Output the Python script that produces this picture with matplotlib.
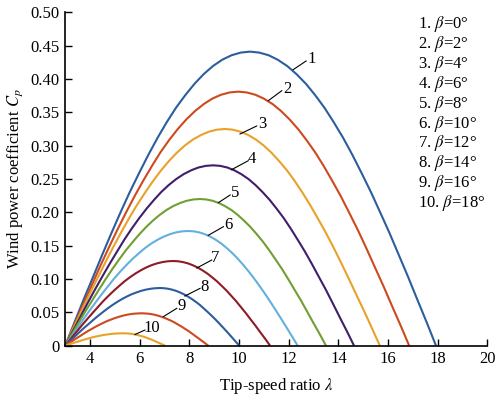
import matplotlib
matplotlib.use("Agg")
import matplotlib.pyplot as plt

plt.rcParams['font.family'] = ['Liberation Serif', 'DejaVu Serif']
plt.rcParams['mathtext.fontset'] = 'stix'

# ---- data ----
lam1 = [3.0, 3.37, 3.74, 4.12, 4.49, 4.86, 5.23, 5.60, 5.98, 6.35, 6.72, 7.09, 7.46, 7.84, 8.21,
        8.58, 8.95, 9.32, 9.70, 10.07, 10.44, 10.81, 11.19, 11.56, 11.94, 12.31, 12.69, 13.06,
        13.44, 13.81, 14.19, 14.56, 14.93, 15.31, 15.68, 16.06, 16.43, 16.81, 17.18, 17.56, 17.93]
cp1 = [0, .0346, .069, .1029, .1363, .1688, .2002, .2304, .2592, .2864, .3118, .3353, .3568, .376,
       .3929, .4074, .4194, .4288, .4356, .4396, .441, .4396, .4356, .4288, .4194, .4074, .3929,
       .376, .3568, .3353, .3118, .2864, .2592, .2304, .2002, .1688, .1363, .1029, .069, .0346, 0]

lam2 = [3.0, 3.35, 3.70, 4.05, 4.39, 4.74, 5.09, 5.44, 5.79, 6.14, 6.49, 6.83, 7.18, 7.53, 7.88,
        8.23, 8.58, 8.92, 9.27, 9.62, 9.97, 10.31, 10.66, 11.00, 11.35, 11.69, 12.03, 12.38,
        12.72, 13.07, 13.41, 13.75, 14.10, 14.44, 14.79, 15.13, 15.47, 15.82, 16.16, 16.51, 16.85]
cp2 = [0, .0299, .0596, .0889, .1177, .1458, .173, .1991, .224, .2474, .2694, .2897, .3082, .3248,
       .3395, .352, .3624, .3705, .3763, .3798, .381, .3798, .3763, .3705, .3624, .352, .3395,
       .3248, .3082, .2897, .2694, .2474, .224, .1991, .173, .1458, .1177, .0889, .0596, .0299, 0]

lam3 = [3.0, 3.32, 3.64, 3.96, 4.29, 4.61, 4.93, 5.25, 5.57, 5.89, 6.22, 6.54, 6.86, 7.18, 7.50,
        7.82, 8.14, 8.47, 8.79, 9.11, 9.43, 9.74, 10.05, 10.37, 10.68, 10.99, 11.30, 11.61,
        11.93, 12.24, 12.55, 12.86, 13.17, 13.49, 13.80, 14.11, 14.42, 14.73, 15.05, 15.36, 15.67]
cp3 = [0, .0255, .0508, .0759, .1004, .1244, .1476, .1698, .191, .2111, .2298, .2471, .2629, .2771,
       .2896, .3003, .3091, .316, .321, .324, .325, .324, .321, .316, .3091, .3003, .2896,
       .2771, .2629, .2471, .2298, .2111, .191, .1698, .1476, .1244, .1004, .0759, .0508, .0255, 0]

lam4 = [3.0, 3.30, 3.60, 3.89, 4.19, 4.49, 4.79, 5.09, 5.38, 5.68, 5.98, 6.28, 6.58, 6.87, 7.17,
        7.47, 7.77, 8.07, 8.36, 8.66, 8.96, 9.24, 9.53, 9.81, 10.09, 10.38, 10.66, 10.94,
        11.23, 11.51, 11.80, 12.08, 12.36, 12.65, 12.93, 13.21, 13.50, 13.78, 14.06, 14.35, 14.63]
cp4 = [0, .0212, .0423, .0631, .0836, .1035, .1228, .1413, .159, .1757, .1913, .2057, .2188, .2306,
       .241, .2499, .2573, .263, .2672, .2697, .2705, .2697, .2672, .263, .2573, .2499, .241,
       .2306, .2188, .2057, .1913, .1757, .159, .1413, .1228, .1035, .0836, .0631, .0423, .0212, 0]

lam5 = [3.0, 3.27, 3.54, 3.81, 4.09, 4.36, 4.63, 4.90, 5.17, 5.44, 5.72, 5.99, 6.26, 6.53, 6.80,
        7.07, 7.34, 7.62, 7.89, 8.16, 8.43, 8.68, 8.94, 9.19, 9.44, 9.70, 9.95, 10.20,
        10.46, 10.71, 10.97, 11.22, 11.47, 11.73, 11.98, 12.23, 12.49, 12.74, 12.99, 13.25, 13.50]
cp5 = [0, .0173, .0344, .0513, .068, .0842, .0999, .115, .1293, .1429, .1556, .1673, .178, .1876,
       .196, .2033, .2092, .2139, .2173, .2193, .22, .2193, .2173, .2139, .2092, .2033, .196,
       .1876, .178, .1673, .1556, .1429, .1293, .115, .0999, .0842, .068, .0513, .0344, .0173, 0]

lam6 = [3.0, 3.25, 3.50, 3.74, 3.99, 4.24, 4.49, 4.74, 4.98, 5.23, 5.48, 5.73, 5.98, 6.22, 6.47,
        6.72, 6.97, 7.22, 7.46, 7.71, 7.96, 8.18, 8.40, 8.62, 8.84, 9.06, 9.28, 9.50,
        9.72, 9.94, 10.16, 10.38, 10.60, 10.82, 11.04, 11.26, 11.48, 11.70, 11.92, 12.14, 12.36]
cp6 = [0, .0135, .0269, .0401, .0531, .0658, .0781, .0899, .1011, .1117, .1216, .1308, .1391, .1466,
       .1533, .1589, .1636, .1673, .1699, .1715, .172, .1715, .1699, .1673, .1636, .1589, .1533,
       .1466, .1391, .1308, .1216, .1117, .1011, .0899, .0781, .0658, .0531, .0401, .0269, .0135, 0]

lam7 = [3.0, 3.22, 3.44, 3.65, 3.87, 4.09, 4.31, 4.52, 4.74, 4.96, 5.18, 5.39, 5.61, 5.83, 6.05,
        6.26, 6.48, 6.70, 6.92, 7.13, 7.35, 7.55, 7.74, 7.94, 8.13, 8.33, 8.52, 8.72,
        8.91, 9.11, 9.30, 9.50, 9.69, 9.89, 10.08, 10.28, 10.47, 10.67, 10.86, 11.06, 11.25]
cp7 = [0, .01, .0199, .0296, .0392, .0486, .0577, .0664, .0747, .0825, .0898, .0966, .1027, .1083,
       .1132, .1173, .1208, .1235, .1254, .1266, .127, .1266, .1254, .1235, .1208, .1173, .1132,
       .1083, .1027, .0966, .0898, .0825, .0747, .0664, .0577, .0486, .0392, .0296, .0199, .01, 0]

lam8 = [3.0, 3.19, 3.38, 3.57, 3.76, 3.96, 4.15, 4.34, 4.53, 4.72, 4.91, 5.10, 5.29, 5.48, 5.67,
        5.87, 6.06, 6.25, 6.44, 6.63, 6.82, 6.98, 7.14, 7.30, 7.46, 7.62, 7.78, 7.94,
        8.10, 8.26, 8.42, 8.57, 8.73, 8.89, 9.05, 9.21, 9.37, 9.53, 9.69, 9.85, 10.01]
cp8 = [0, .0068, .0135, .0202, .0267, .0331, .0393, .0452, .0508, .0562, .0612, .0658, .07, .0737,
       .0771, .0799, .0823, .0841, .0854, .0862, .0865, .0862, .0854, .0841, .0823, .0799, .0771,
       .0737, .07, .0658, .0612, .0562, .0508, .0452, .0393, .0331, .0267, .0202, .0135, .0068, 0]

lam9 = [3.0, 3.15, 3.31, 3.46, 3.62, 3.77, 3.92, 4.08, 4.23, 4.39, 4.54, 4.69, 4.85, 5.00, 5.16,
        5.31, 5.46, 5.62, 5.77, 5.93, 6.08, 6.21, 6.35, 6.48, 6.62, 6.75, 6.88, 7.02,
        7.15, 7.29, 7.42, 7.55, 7.69, 7.82, 7.96, 8.09, 8.22, 8.36, 8.49, 8.63, 8.76]
cp9 = [0, .0038, .0076, .0113, .015, .0186, .0221, .0254, .0286, .0316, .0344, .037, .0393, .0414,
       .0433, .0449, .0462, .0473, .048, .0484, .0486, .0484, .048, .0473, .0462, .0449, .0433,
       .0414, .0393, .037, .0344, .0316, .0286, .0254, .0221, .0186, .015, .0113, .0076, .0038, 0]

lam10 = [3.0, 3.12, 3.23, 3.35, 3.47, 3.59, 3.70, 3.82, 3.94, 4.05, 4.17, 4.29, 4.40, 4.52, 4.64,
         4.76, 4.87, 4.99, 5.11, 5.22, 5.34, 5.42, 5.51, 5.59, 5.68, 5.76, 5.84, 5.93,
         6.01, 6.10, 6.18, 6.26, 6.35, 6.43, 6.52, 6.60, 6.68, 6.77, 6.85, 6.94, 7.02]
cp10 = [0, .0015, .0029, .0043, .0057, .0071, .0084, .0097, .0109, .0121, .0132, .0141, .015, .0159,
        .0166, .0172, .0177, .0181, .0184, .0185, .0186, .0185, .0184, .0181, .0177, .0172, .0166,
        .0159, .015, .0141, .0132, .0121, .0109, .0097, .0084, .0071, .0057, .0043, .0029, .0015, 0]

beta_deg = [0, 2, 4, 6, 8, 10, 12, 14, 16, 18]
curve_ids = ['1', '2', '3', '4', '5', '6', '7', '8', '9', '10']
y_ticks = [0, 0.05, 0.10, 0.15, 0.20, 0.25, 0.30, 0.35, 0.40, 0.45, 0.50]
y_tick_labels = ['0', '0.05', '0.10', '0.15', '0.20', '0.25', '0.30', '0.35', '0.40', '0.45', '0.50']
x_ticks = [4, 6, 8, 10, 12, 14, 16, 18, 20]

# ---- styling / layout ----
colors = ['#2b5d9f', '#cc4a1e', '#e8a22a', '#3f1f6a', '#6f9f32',
          '#63b0de', '#8e1b25', '#2b5d9f', '#cc4a1e', '#e8a22a']

lams = [lam1, lam2, lam3, lam4, lam5, lam6, lam7, lam8, lam9, lam10]
cps = [cp1, cp2, cp3, cp4, cp5, cp6, cp7, cp8, cp9, cp10]

# leader lines (start on curve -> end near label) and label positions, data coords
leaders = [((12.18, 0.414), (12.70, 0.427)),
           ((11.18, 0.3675), (11.72, 0.3824)),
           ((10.04, 0.3175), (10.71, 0.3295)),
           ((9.70, 0.264), (10.37, 0.2774)),
           ((9.17, 0.2145), (9.64, 0.226)),
           ((8.76, 0.1655), (9.37, 0.1785)),
           ((8.30, 0.1165), (8.90, 0.1285)),
           ((7.82, 0.0745), (8.43, 0.086)),
           ((6.95, 0.0435), (7.49, 0.056)),
           ((5.81, 0.0168), (6.21, 0.0235))]
label_pos = [(12.92, 0.4295), (11.94, 0.3845), (10.95, 0.332), (10.51, 0.280),
             (9.84, 0.2286), (9.57, 0.181), (9.03, 0.131), (8.63, 0.0885),
             (7.69, 0.0595), (6.48, 0.026)]

fig = plt.figure(figsize=(5.0, 3.96), dpi=100)
ax = fig.add_axes([65.2 / 500, 1 - 345.7 / 396, 422.2 / 500, 333.4 / 396])

for lx, cy, c in zip(lams, cps, colors):
    ax.plot(lx, cy, color=c, lw=1.5, solid_capstyle='butt', solid_joinstyle='round',
            clip_on=False)

for (p0, p1), (tx, ty), cid in zip(leaders, label_pos, curve_ids):
    ax.plot([p0[0], p1[0]], [p0[1], p1[1]], color='black', lw=0.8)
    ax.text(tx, ty, cid, fontsize=12, ha='center', va='center')

ax.set_xlim(3, 20)
ax.set_ylim(0, 0.5)
ax.set_xticks(x_ticks)
ax.set_xticklabels([str(t) for t in x_ticks])
ax.set_yticks(y_ticks)
ax.set_yticklabels(y_tick_labels)
ax.tick_params(direction='in', length=5, width=1.0, labelsize=12, pad=4)
for s in ['top', 'right']:
    ax.spines[s].set_visible(False)
for s in ['left', 'bottom']:
    ax.spines[s].set_linewidth(1.2)

ax.set_xlabel(r'Tip-speed ratio $\lambda$', fontsize=12, labelpad=6)
ax.set_ylabel(r'Wind power coefficient $C_p$', fontsize=12, labelpad=4)

for i, (cid, b) in enumerate(zip(curve_ids, beta_deg)):
    fig.text(418 / 500, 1 - (24 + i * 19.9) / 396, cid + r'. $\beta$=' + str(b) + '°',
             fontsize=12, ha='left', va='center')

fig.savefig('out.png', dpi=100)
